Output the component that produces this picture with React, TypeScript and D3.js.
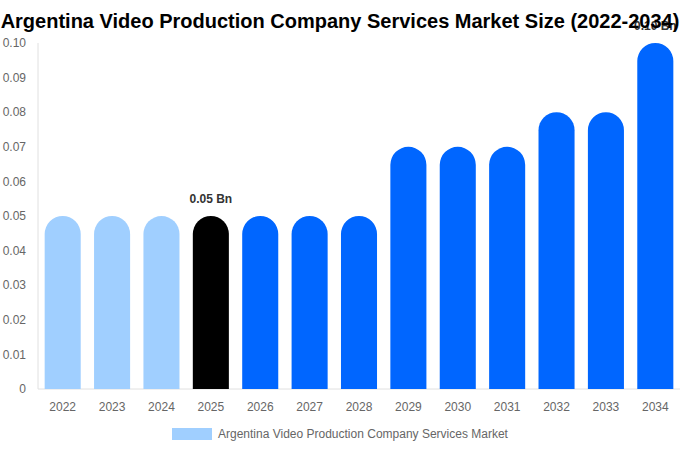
import React, { useEffect, useRef } from 'react';
import * as d3 from 'd3';

const years = ['2022', '2023', '2024', '2025', '2026', '2027', '2028', '2029', '2030', '2031', '2032', '2033', '2034'];
const values = [0.05, 0.05, 0.05, 0.05, 0.05, 0.05, 0.05, 0.07, 0.07, 0.07, 0.08, 0.08, 0.1];
const yTicks = [0, 0.01, 0.02, 0.03, 0.04, 0.05, 0.06, 0.07, 0.08, 0.09, 0.1];
const labelledYears = ['2025', '2034'];
const historicYears = ['2022', '2023', '2024'];
const baseYear = '2025';

const TITLE = 'Argentina Video Production Company Services Market Size (2022-2034)';
const LEGEND = 'Argentina Video Production Company Services Market';

const width = 680;
const height = 450;
const margin = { top: 43, right: 0, bottom: 61, left: 38 };

// Bar with a fully rounded top, flat bottom
const barPath = (x: number, y: number, w: number, h: number) => {
  const r = Math.min(w / 2, h);
  return `M${x},${y + h} L${x},${y + r} A${r},${r} 0 0 1 ${x + w},${y + r} L${x + w},${y + h} Z`;
};

const barColor = (year: string) => {
  if (year === baseYear) return '#000000';
  if (historicYears.includes(year)) return '#a0cfff';
  return '#0066ff';
};

export default function App() {
  const svgRef = useRef<SVGSVGElement>(null);

  useEffect(() => {
    if (!svgRef.current) return;
    const svg = d3.select(svgRef.current);
    svg.selectAll('*').remove();

    const innerH = height - margin.top - margin.bottom;

    const x = d3.scaleBand()
      .domain(years)
      .range([margin.left, width - margin.right])
      .paddingInner(0.27)
      .paddingOuter(0.135);

    const y = d3.scaleLinear()
      .domain([0, 0.1])
      .range([margin.top + innerH, margin.top]);

    // y axis line
    svg.append('line')
      .attr('x1', margin.left).attr('x2', margin.left)
      .attr('y1', margin.top).attr('y2', y(0))
      .attr('stroke', '#e0e0e0');

    // x axis line
    svg.append('line')
      .attr('x1', margin.left).attr('x2', width - margin.right)
      .attr('y1', y(0)).attr('y2', y(0))
      .attr('stroke', '#e0e0e0');

    // y tick labels
    svg.append('g')
      .selectAll('text')
      .data(yTicks)
      .join('text')
      .attr('x', 26)
      .attr('y', d => y(d))
      .attr('dy', '0.35em')
      .attr('text-anchor', 'end')
      .attr('font-size', 12)
      .attr('fill', '#666')
      .text(d => (d === 0 ? '0' : d3.format('.2f')(d)));

    // x tick labels
    svg.append('g')
      .selectAll('text')
      .data(years)
      .join('text')
      .attr('x', d => (x(d) || 0) + x.bandwidth() / 2)
      .attr('y', y(0) + 22)
      .attr('text-anchor', 'middle')
      .attr('font-size', 12)
      .attr('fill', '#666')
      .text(d => d);

    // bars
    svg.append('g')
      .selectAll('path')
      .data(years)
      .join('path')
      .attr('d', (d, i) => barPath(x(d) || 0, y(values[i]), x.bandwidth(), y(0) - y(values[i])))
      .attr('fill', d => barColor(d));

    // value labels
    svg.append('g')
      .selectAll('text')
      .data(years.filter(d => labelledYears.includes(d)))
      .join('text')
      .attr('x', d => (x(d) || 0) + x.bandwidth() / 2)
      .attr('y', d => y(values[years.indexOf(d)]) - 13)
      .attr('text-anchor', 'middle')
      .attr('font-size', 12)
      .attr('font-weight', 'bold')
      .attr('fill', '#333')
      .text(d => `${values[years.indexOf(d)].toFixed(2)} Bn`);

    // title
    svg.append('text')
      .attr('x', width / 2)
      .attr('y', 28)
      .attr('text-anchor', 'middle')
      .attr('font-size', 20)
      .attr('font-weight', 'bold')
      .attr('fill', '#000')
      .text(TITLE);

    // legend
    const legend = svg.append('g');
    legend.append('rect')
      .attr('x', 172).attr('y', 428)
      .attr('width', 40).attr('height', 12)
      .attr('fill', '#a0cfff');
    legend.append('text')
      .attr('x', 218).attr('y', 434)
      .attr('dy', '0.35em')
      .attr('font-size', 12)
      .attr('fill', '#666')
      .text(LEGEND);
  }, []);

  return (
    <svg
      ref={svgRef}
      width={width}
      height={height}
      style={{ position: 'absolute', left: 0, top: 0, fontFamily: '"Liberation Sans", Arial, sans-serif' }}
    />
  );
}
